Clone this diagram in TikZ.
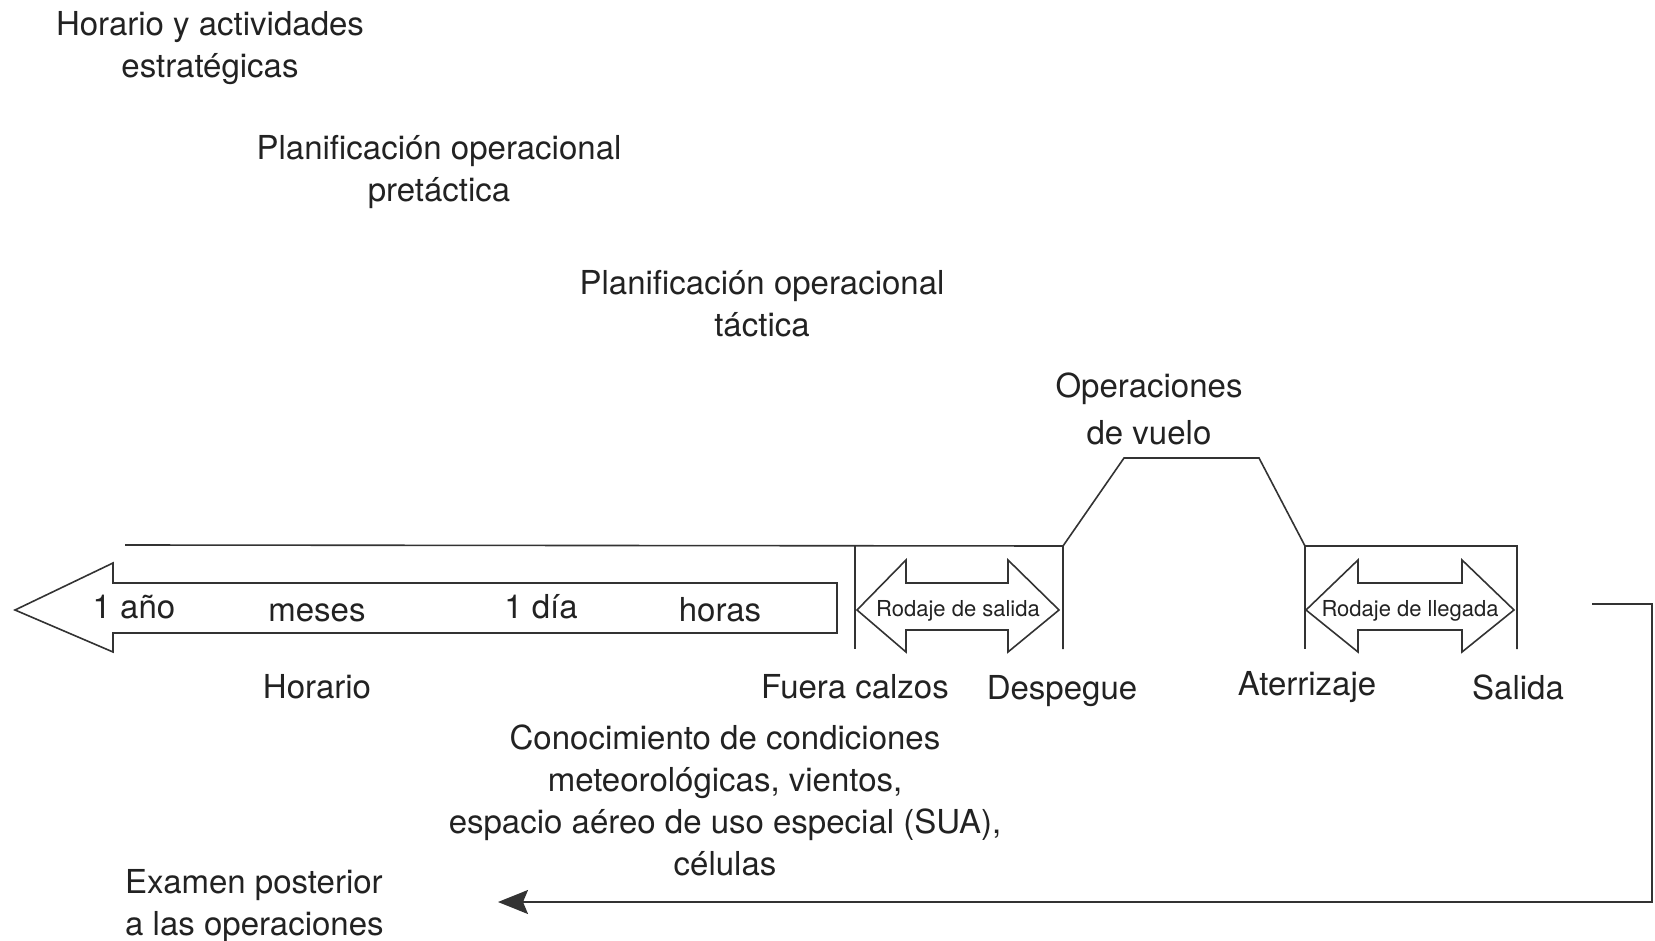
\documentclass[tikz,border=0pt]{standalone}
\usepackage{fontspec}
\setmainfont{TeX Gyre Heros}
\usetikzlibrary{arrows.meta}
\definecolor{ink}{HTML}{222222}
\definecolor{linec}{HTML}{333333}
\tikzset{
  lbl/.style={inner sep=0pt, align=center, text=ink, font=\fontsize{33}{42}\selectfont},
  small/.style={inner sep=0pt, text=ink, font=\fontsize{22}{26}\selectfont},
  ln/.style={draw=linec, line width=1.6pt, line join=miter},
}
\begin{document}
\begin{tikzpicture}[x=1pt,y=-1pt]
\useasboundingbox (0,0) rectangle (1655,941);
% top labels
\node[lbl] (strat) at (210,48) {Horario y actividades\\estratégicas};
\node[lbl] (pretac) at (439,172) {Planificación operacional\\pretáctica};
\node[lbl] (tac) at (762,304) {Planificación operacional\\táctica};
\node[lbl] (opv) at (1149,409) {Operaciones\\[5pt]de vuelo};
% timeline frame
\draw[ln] (125,545) -- (1063,546);
\draw[ln] (855,545) -- (855,649);
\draw[ln] (1063,649) -- (1063,546) -- (1124,458) -- (1259,458) -- (1305,546) -- (1517,546) -- (1517,649);
\draw[ln] (1305,546) -- (1305,649);
% big left arrow
\draw[ln] (837,583) -- (113,583) -- (113,563) -- (15,610) -- (113,652) -- (113,633) -- (837,633) -- cycle;
\node[lbl] (anio) at (134,607) {1 año};
\node[lbl] (meses) at (317,613) {meses};
\node[lbl] (dia) at (541,607) {1 día};
\node[lbl] (horas) at (720,610) {horas};
% double arrows
\draw[ln] (857,610) -- (906,560) -- (906,583) -- (1008,583) -- (1008,560) -- (1059,610) -- (1008,652) -- (1008,630) -- (906,630) -- (906,652) -- cycle;
\node[small] (rsal) at (958,611) {Rodaje de salida};
\draw[ln] (1306,610) -- (1358,560) -- (1358,583) -- (1462,583) -- (1462,560) -- (1514,610) -- (1462,652) -- (1462,630) -- (1358,630) -- (1358,652) -- cycle;
\node[small] (rlleg) at (1410,611) {Rodaje de llegada};
% bottom labels
\node[lbl] (horario) at (317,687) {Horario};
\node[lbl] (fuera) at (855,687) {Fuera calzos};
\node[lbl] (despegue) at (1062,691) {Despegue};
\node[lbl] (aterr) at (1307,687) {Aterrizaje};
\node[lbl] (salida) at (1518,687) {Salida};
\node[lbl] (conoc) at (725,800) {Conocimiento de condiciones\\meteorológicas, vientos,\\espacio aéreo de uso especial (SUA),\\células};
\node[lbl, align=left, anchor=west] (examen) at (125,906) {Examen posterior\\a las operaciones};
% return connector
\coordinate (rs) at (1592,604);
\coordinate (rc1) at (1652,604);
\coordinate (rc2) at (1652,902);
\coordinate (re) at (498,902);
\draw[ln, -{Stealth[length=30pt,width=24pt,inset=5pt]}] (rs) -- (rc1) -- (rc2) -- (re);
\end{tikzpicture}
\end{document}
